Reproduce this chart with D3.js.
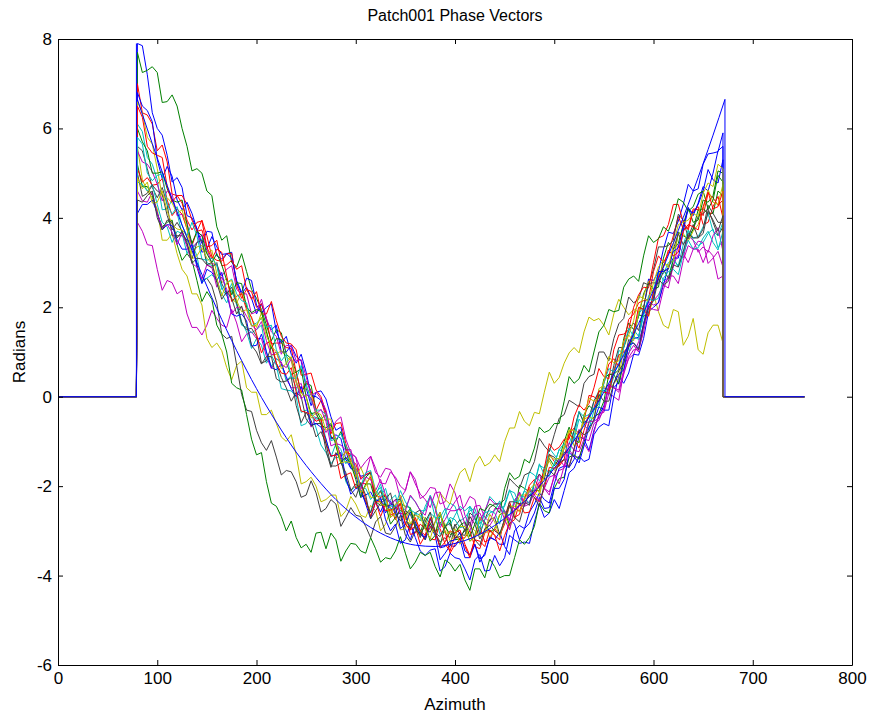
<!DOCTYPE html>
<html>
<head>
<meta charset="utf-8">
<script src="https://cdn.jsdelivr.net/npm/d3@7"></script>
<style>
	body { margin: 0; background: #fff; }
	text { font-family: "Liberation Sans", Arial, sans-serif; fill: #000; }
</style>
</head>
<body>
<svg id="chart" width="874" height="717"></svg>
<script>
//Labels
var title = "Patch001 Phase Vectors";
var xLabel = "Azimuth";
var yLabel = "Radians";
var xTicks = [0, 100, 200, 300, 400, 500, 600, 700, 800];
var yTicks = [-6, -4, -2, 0, 2, 4, 6, 8];

//Zero padding outside the patch
var padStart = 0;
var jumpAt = 79;
var padEnd = 752;

//Sample azimuths of the measured vectors
var azimuth = [80,85,90,95,100,105,110,115,120,125,130,135,140,145,150,155,160,165,170,175,
	180,185,190,195,200,205,210,215,220,225,230,235,240,245,250,255,260,265,270,275,
	280,285,290,295,300,305,310,315,320,325,330,335,340,345,350,355,360,365,370,375,
	380,385,390,395,400,405,410,415,420,425,430,435,440,445,450,455,460,465,470,475,
	480,485,490,495,500,505,510,515,520,525,530,535,540,545,550,555,560,565,570,575,
	580,585,590,595,600,605,610,615,620,625,630,635,640,645,650,655,660,665,670];

//Smooth reference curve
var modelAzimuth = [80, 100, 120, 140, 160, 180, 200, 220, 240, 260, 280, 300, 320, 340, 360, 380,
	400, 420, 440, 460, 480, 500, 520, 540, 560, 580, 600, 620, 640, 660, 672];
var modelPhase = [6.65, 5.34, 4.13, 3.00, 1.97, 1.03, 0.18, -0.57, -1.24, -1.81, -2.30, -2.69, -2.99, -3.20, -3.32, -3.35,
	-3.28, -3.13, -2.88, -2.54, -2.12, -1.60, -0.98, -0.28, 0.51, 1.40, 2.38, 3.44, 4.60, 5.85, 6.65];

//Phase vectors
var trace01 = [7.9,7.85,7.2,6.35,6.0,5.85,5.4,4.8,4.9,4.68,4.05,4.0,3.75,3.23,3.3,3.58,3.35,3.18,3.2,3.23,
	2.55,2.3,2.45,2.2,1.85,2.08,1.7,1.5,1.6,1.0,1.0,1.15,0.9,0.8,0.2,-0.2,0.1,0.13,-0.05,-0.45,
	-0.75,-0.68,-1.2,-1.6,-1.6,-1.78,-1.75,-1.7,-2.35,-2.58,-2.3,-2.33,-2.65,-2.6,-2.95,-3.2,-2.85,-2.98,-3.2,-2.9,
	-3.1,-3.65,-3.5,-3.33,-3.35,-3.18,-3.6,-3.6,-3.3,-3.63,-3.55,-3.13,-3.2,-3.3,-3.3,-2.73,-2.85,-3.2,-2.95,-2.58,
	-2.4,-2.15,-2.3,-2.38,-1.95,-1.6,-1.55,-1.58,-1.4,-0.88,-0.95,-1.2,-0.75,-0.43,-0.2,0.25,0.2,0.33,0.85,1.18,
	1.3,1.33,1.95,2.63,2.6,2.8,3.3,3.68,3.65,3.93,4.3,4.75,4.6,4.65,5.2,5.43,5.45,5.48,5.9];
var trace02 = [7.7,7.25,7.3,7.38,7.25,6.58,6.6,6.75,6.5,6.0,5.6,5.05,5.1,5.0,4.6,4.5,3.8,3.5,3.6,3.0,
	2.9,3.2,2.8,2.4,2.2,1.95,1.6,1.25,1.5,1.43,0.95,0.85,0.55,0.08,0.3,0.25,-0.3,-0.5,-0.4,-0.9,
	-1.0,-0.78,-1.15,-1.48,-1.7,-2.0,-1.8,-1.7,-2.3,-2.35,-2.2,-2.7,-2.6,-2.38,-2.45,-2.48,-2.9,-3.05,-2.7,-2.83,
	-3.05,-3.33,-2.9,-2.75,-3.2,-3.18,-2.95,-3.23,-3.1,-2.7,-2.8,-3.03,-2.95,-2.65,-2.55,-2.88,-2.6,-1.98,-2.05,-2.13,
	-2.1,-2.1,-1.6,-1.38,-1.55,-1.38,-1.0,-0.68,-0.95,-1.03,-0.4,-0.2,-0.3,-0.15,0.4,0.5,0.5,0.6,1.3,1.65,
	1.5,1.8,2.3,2.55,2.4,2.45,3.1,3.45,3.3,3.43,3.85,4.23,3.9,3.95,4.4,4.35,4.5,5.05,5.0];
var trace03 = [7.0,6.35,6.3,6.1,5.5,5.63,5.25,4.53,4.5,4.5,4.3,3.95,3.7,3.95,3.6,3.13,3.05,3.03,3.2,3.2,
	2.5,2.2,2.4,2.35,2.0,2.08,1.75,1.18,1.2,1.2,1.1,1.08,0.55,0.1,0.35,0.13,-0.3,-0.08,-0.45,-0.88,
	-1.0,-1.33,-1.25,-1.28,-1.8,-1.93,-1.95,-1.8,-2.35,-2.68,-2.4,-2.48,-2.75,-2.48,-2.6,-3.08,-3.05,-2.85,-2.95,-3.18,
	-3.2,-2.8,-3.0,-3.5,-3.3,-3.18,-3.15,-3.0,-3.35,-3.4,-3.05,-2.98,-3.1,-3.2,-2.7,-2.35,-2.7,-2.63,-2.25,-2.03,
	-2.2,-2.0,-1.7,-1.28,-1.45,-1.55,-1.15,-0.83,-0.7,-0.83,-0.55,0.03,0.0,-0.1,0.3,0.73,0.85,0.68,1.2,1.73,
	1.85,2.1,2.15,2.18,2.8,3.15,3.0,3.2,3.6,4.03,3.75,3.78,4.2,4.18,4.05,4.55,4.45,4.28,4.4];
var trace04 = [6.1,5.93,5.35,5.2,4.85,4.18,4.2,4.4,4.1,3.65,3.5,3.28,3.45,3.53,3.0,2.93,2.95,2.43,2.25,2.53,
	2.1,1.68,1.45,1.08,1.3,1.15,0.75,0.93,0.7,0.18,0.15,0.13,0.0,-0.65,-0.6,-0.35,-0.7,-1.08,-1.25,-1.5,
	-1.35,-1.38,-1.9,-2.1,-2.0,-2.08,-2.35,-2.58,-2.2,-1.95,-2.4,-2.3,-2.2,-2.6,-2.5,-2.23,-2.35,-2.55,-2.55,-2.2,
	-2.45,-2.88,-2.6,-2.38,-2.45,-2.78,-2.7,-2.55,-2.5,-2.85,-2.6,-2.23,-2.35,-2.5,-2.45,-2.1,-2.15,-2.43,-2.1,-1.68,
	-1.75,-1.88,-1.7,-1.15,-1.3,-1.43,-1.15,-1.05,-0.75,-0.35,-0.55,-0.58,-0.1,0.13,0.15,0.03,0.6,0.95,0.9,1.15,
	1.5,1.35,1.8,2.25,2.4,2.8,2.6,2.65,3.1,2.9,3.2,3.7,3.5,3.38,3.45,3.65,3.75,3.33,3.5];
var trace05 = [3.9,3.7,3.4,3.38,2.85,2.38,2.6,2.55,2.3,2.38,1.85,1.55,1.55,1.38,1.6,1.93,1.75,1.6,1.55,1.95,
	1.65,1.23,1.4,1.45,1.3,1.3,0.9,0.63,0.85,0.78,0.4,0.2,0.2,0.3,-0.2,-0.68,-0.45,-0.58,-0.8,-0.63,
	-0.95,-1.38,-1.4,-1.28,-1.35,-1.85,-1.75,-1.33,-1.6,-1.93,-1.95,-1.68,-1.8,-2.0,-2.1,-1.68,-1.85,-2.28,-2.2,-2.03,
	-2.05,-2.4,-2.35,-1.95,-2.15,-2.55,-2.45,-2.23,-2.3,-2.78,-2.55,-2.28,-2.4,-2.38,-2.55,-2.75,-2.35,-2.13,-2.4,-2.35,
	-2.1,-1.73,-2.05,-2.13,-1.8,-1.65,-1.6,-1.18,-1.35,-1.35,-1.05,-1.23,-0.8,-0.38,-0.35,0.08,0.0,-0.08,0.55,0.85,
	0.95,1.23,1.6,2.13,2.05,2.1,2.55,2.63,2.9,3.4,3.2,3.0,3.3,3.3,3.0,3.28,3.15,2.63,2.7];
var trace06 = [5.6,4.85,4.6,4.45,4.2,3.5,3.5,3.65,3.2,2.85,2.7,2.3,2.3,2.05,1.3,1.1,1.2,1.03,0.65,0.38,
	0.7,0.8,0.2,0.1,0.1,-0.4,-0.4,-0.3,-0.6,-0.9,-1.0,-0.85,-1.3,-1.95,-1.9,-1.8,-2.0,-2.35,-2.3,-2.2,
	-2.2,-2.68,-2.55,-2.23,-2.4,-2.65,-2.7,-2.43,-2.55,-3.0,-2.85,-2.53,-2.7,-2.98,-2.95,-2.5,-2.75,-3.03,-2.9,-2.85,
	-2.6,-2.15,-2.3,-2.4,-2.0,-1.7,-1.6,-1.9,-1.5,-1.33,-1.55,-1.48,-1.3,-1.45,-1.0,-0.7,-0.7,-0.33,-0.55,-0.65,
	-0.35,-0.38,0.1,0.55,0.3,0.43,0.75,0.98,1.1,0.98,1.45,1.78,1.7,1.75,1.6,1.38,1.85,2.18,2.0,1.83,
	1.95,1.9,2.25,2.58,2.3,1.9,1.6,1.53,1.95,1.9,1.15,1.35,1.75,1.05,0.95,1.43,1.6,1.6,1.2];
var trace07 = [5.6,5.5,5.1,4.68,4.45,4.68,4.3,3.6,3.6,3.6,3.5,3.48,2.95,2.6,2.65,2.48,2.1,1.4,1.3,1.35,
	0.7,0.05,-0.3,-0.33,-0.75,-1.03,-1.2,-0.98,-1.35,-1.75,-1.65,-1.68,-1.9,-2.25,-2.2,-1.88,-2.15,-2.58,-2.5,-2.3,
	-2.4,-2.9,-2.7,-2.48,-2.65,-2.68,-2.9,-3.15,-2.8,-2.68,-3.05,-3.08,-2.9,-2.65,-3.1,-3.25,-3.0,-3.05,-3.2,-2.83,
	-3.05,-3.25,-3.15,-3.33,-2.9,-2.75,-3.0,-2.6,-2.7,-3.08,-2.75,-2.48,-2.4,-2.4,-2.3,-1.83,-1.95,-2.05,-1.75,-1.7,
	-1.45,-0.93,-1.1,-1.23,-0.85,-0.48,-0.4,-0.08,-0.15,-0.23,0.3,0.45,0.5,1.0,1.0,0.8,1.3,1.63,1.75,2.23,
	2.1,2.18,2.55,2.5,2.85,3.35,3.35,3.38,3.5,4.08,3.95,3.55,3.75,4.03,4.1,4.2,3.9,3.6,3.8];
var trace08 = [6.8,6.5,6.4,6.15,5.3,4.88,5.15,4.93,4.4,4.18,4.35,4.1,3.75,3.43,3.7,3.68,3.15,3.08,3.2,3.1,
	2.6,2.33,2.65,2.6,2.05,1.88,2.0,2.08,1.45,1.2,1.35,0.95,0.75,0.95,0.55,0.03,0.0,-0.08,-0.35,-0.95,
	-0.85,-0.93,-1.4,-1.6,-1.7,-2.25,-2.2,-2.13,-2.35,-2.25,-2.75,-3.0,-2.85,-3.28,-3.2,-2.83,-3.15,-3.45,-3.55,-3.43,
	-3.4,-3.9,-3.8,-3.5,-3.6,-3.63,-3.85,-4.1,-3.65,-3.53,-3.9,-3.88,-3.55,-3.78,-3.6,-3.1,-3.2,-3.28,-3.25,-3.28,
	-2.8,-2.4,-2.7,-2.6,-2.3,-2.5,-2.1,-1.7,-1.6,-1.33,-1.45,-1.4,-0.85,-0.68,-0.6,-0.65,0.0,0.45,0.3,0.53,
	0.95,0.93,1.3,1.9,2.0,2.1,2.5,2.9,3.1,3.1,3.7,4.23,4.05,4.33,4.7,4.6,5.0,5.5,5.6];
var trace09 = [5.2,4.7,4.7,4.5,4.1,3.8,3.9,3.95,3.4,3.05,3.2,3.05,2.6,2.13,2.35,2.18,1.6,1.4,1.0,0.3,
	0.2,0.15,-0.4,-0.95,-1.3,-1.25,-1.9,-2.38,-2.45,-2.68,-3.0,-2.78,-3.15,-3.38,-3.3,-3.48,-3.05,-3.03,-3.4,-3.05,
	-3.2,-3.68,-3.45,-3.28,-3.3,-3.45,-3.5,-3.15,-3.4,-3.7,-3.6,-3.63,-3.45,-3.13,-3.5,-3.85,-3.7,-3.48,-3.55,-3.48,
	-3.8,-4.03,-3.65,-3.73,-3.9,-3.75,-4.1,-4.33,-3.85,-3.85,-4.05,-3.63,-3.8,-4.05,-4.0,-4.0,-3.6,-3.2,-3.3,-3.15,
	-2.9,-2.38,-2.55,-2.6,-2.05,-1.83,-1.8,-1.35,-1.3,-1.4,-1.0,-0.58,-0.45,-0.38,-0.1,0.5,0.5,0.28,0.75,1.1,
	1.35,1.83,1.8,1.85,2.3,2.68,2.85,2.65,3.05,3.68,3.6,3.53,3.75,4.18,4.2,4.1,4.1,4.6,4.5];
var trace10 = [5.1,4.8,4.9,4.73,4.75,4.88,4.4,4.05,4.2,4.08,3.75,3.38,3.7,3.73,3.35,3.38,3.5,2.93,2.95,3.05,
	2.85,2.93,2.4,2.18,2.35,1.85,1.85,2.13,1.7,1.35,1.2,1.18,1.05,0.48,0.5,0.53,0.15,0.0,-0.35,-0.83,
	-0.6,-0.58,-1.05,-1.43,-1.5,-1.83,-1.75,-1.68,-2.2,-2.25,-2.2,-2.65,-2.6,-2.38,-2.85,-2.98,-2.9,-3.3,-3.1,-2.9,
	-3.0,-2.95,-3.3,-3.45,-3.1,-3.18,-3.35,-3.6,-3.15,-2.9,-3.25,-3.2,-2.95,-3.1,-2.85,-2.43,-2.5,-2.55,-2.3,-1.98,
	-1.85,-2.03,-1.6,-1.05,-1.2,-1.13,-0.95,-0.95,-0.45,-0.18,-0.3,-0.15,0.2,0.63,0.45,0.4,1.05,1.38,1.4,1.5,
	2.0,2.28,2.45,2.43,3.0,3.55,3.6,3.85,4.3,4.3,3.9,3.73,4.15,4.25,3.85,3.9,4.25,4.48,4.0];
var trace11 = [4.8,4.75,4.6,4.75,4.3,3.9,3.8,3.45,3.7,3.65,3.2,3.43,3.15,2.55,2.65,2.73,2.6,2.3,2.1,2.38,
	2.05,1.6,1.55,1.43,1.5,1.6,1.0,0.68,0.85,0.75,0.35,0.48,0.2,-0.35,-0.3,-0.35,-0.5,-0.48,-0.95,-1.35,
	-1.05,-1.18,-1.5,-1.3,-1.7,-2.03,-2.05,-2.3,-2.15,-2.03,-2.4,-2.5,-2.5,-2.25,-2.7,-2.95,-2.6,-2.65,-2.9,-2.6,
	-2.7,-3.08,-2.95,-2.7,-2.75,-2.93,-2.9,-2.45,-2.6,-3.03,-2.75,-2.6,-2.55,-2.33,-2.6,-2.65,-2.3,-2.18,-2.25,-2.4,
	-1.95,-1.5,-1.75,-1.78,-1.5,-1.18,-1.25,-1.15,-0.95,-0.5,-0.65,-0.73,-0.3,0.03,0.15,0.1,0.45,1.03,1.0,0.95,
	1.4,1.85,2.0,1.83,2.35,2.75,2.75,3.0,3.05,2.93,3.4,3.73,3.55,3.58,3.8,4.1,3.7,3.6,3.9];
var trace12 = [5.5,5.25,5.2,5.03,4.75,4.38,4.6,4.53,4.05,4.08,3.9,3.33,3.45,3.63,3.3,2.98,2.95,2.7,2.85,2.93,
	2.4,2.3,2.3,1.85,1.9,2.18,1.75,1.45,1.35,0.95,1.15,1.13,0.8,0.83,0.45,0.03,0.1,-0.05,-0.3,-0.78,
	-0.55,-0.45,-0.95,-1.25,-1.35,-1.6,-1.45,-1.33,-1.7,-1.8,-1.6,-1.63,-1.85,-2.28,-2.1,-1.68,-1.95,-2.18,-2.3,-2.48,
	-2.15,-2.13,-2.5,-2.53,-2.35,-2.2,-2.65,-2.9,-2.45,-2.43,-2.7,-2.8,-2.5,-2.5,-2.6,-2.78,-2.35,-2.15,-2.45,-2.4,
	-2.15,-1.9,-2.05,-2.2,-1.75,-1.4,-1.55,-1.53,-1.2,-0.73,-0.95,-0.98,-0.6,-0.53,-0.25,0.28,0.2,0.15,0.6,0.98,
	1.15,1.0,1.55,2.05,2.15,2.28,2.5,2.43,2.95,3.18,3.1,3.6,3.5,3.23,3.35,3.23,3.6,3.78,3.25];
var trace13 = [6.6,6.35,5.8,5.65,5.1,4.48,4.45,4.33,4.1,4.18,3.75,3.2,3.35,3.38,3.2,3.28,2.75,2.55,2.65,2.18,
	2.1,2.33,2.05,1.75,1.55,1.88,1.5,0.93,0.95,1.03,0.9,0.8,0.3,0.0,0.2,0.05,-0.4,-0.55,-0.5,-0.5,
	-1.1,-1.5,-1.2,-1.45,-1.8,-1.58,-1.85,-2.25,-2.25,-2.13,-2.2,-2.7,-2.6,-2.2,-2.5,-2.83,-2.85,-2.6,-2.75,-2.95,
	-3.05,-2.65,-2.85,-3.23,-3.1,-2.9,-2.9,-3.23,-3.15,-2.7,-2.85,-3.15,-2.95,-2.63,-2.6,-2.95,-2.6,-2.2,-2.2,-2.08,
	-2.15,-2.23,-1.7,-1.43,-1.65,-1.48,-1.1,-0.75,-1.1,-1.0,-0.5,-0.45,-0.5,0.18,0.25,0.13,0.3,0.4,1.1,1.38,
	1.25,1.9,2.05,1.8,2.25,2.7,2.95,2.95,3.05,3.65,3.65,3.48,3.7,3.85,4.2,4.63,4.35,4.3,4.75];
var trace14 = [5.0,4.48,4.55,4.73,4.6,4.53,4.05,3.73,3.9,3.7,3.4,3.08,3.45,3.5,2.95,2.88,3.0,2.53,2.3,2.45,
	2.1,1.65,1.5,1.53,1.35,0.75,0.8,1.13,0.75,0.43,0.2,-0.1,0.1,0.0,-0.5,-0.65,-0.6,-0.6,-1.2,-1.58,
	-1.25,-1.4,-1.85,-2.1,-1.95,-2.1,-2.35,-2.6,-2.25,-2.1,-2.45,-2.43,-2.3,-2.3,-2.7,-2.95,-2.6,-2.53,-2.95,-3.03,
	-2.8,-2.58,-3.05,-3.15,-2.85,-3.08,-3.1,-2.68,-2.85,-3.18,-3.0,-2.75,-2.7,-3.08,-2.75,-2.35,-2.35,-2.4,-2.35,-2.43,
	-1.9,-1.73,-1.85,-1.3,-1.35,-1.5,-1.25,-1.25,-0.75,-0.33,-0.6,-0.45,-0.1,0.1,0.2,0.15,0.7,1.1,1.1,1.48,
	1.65,1.48,2.0,2.53,2.55,2.53,2.8,2.85,3.3,3.65,3.4,3.58,3.85,3.55,3.75,4.28,4.1,3.9,3.9];
var trace15 = [4.1,4.3,4.3,4.4,4.1,3.73,3.85,3.83,3.5,3.3,3.3,3.4,2.9,2.53,2.85,2.78,2.6,2.78,2.3,1.85,
	1.8,1.85,1.7,1.13,1.15,1.4,1.0,0.65,0.6,0.73,0.45,0.18,0.0,0.23,-0.15,-0.63,-0.6,-0.68,-0.95,-1.33,
	-1.3,-1.25,-1.8,-2.18,-2.05,-2.08,-2.4,-2.73,-2.35,-2.28,-2.6,-2.38,-2.45,-2.95,-2.85,-2.58,-2.8,-3.08,-3.15,-2.73,
	-3.0,-3.38,-3.35,-3.23,-3.2,-3.03,-3.45,-3.53,-3.3,-3.7,-3.5,-3.15,-3.2,-3.03,-3.35,-3.53,-3.0,-2.88,-2.95,-2.83,
	-2.6,-2.25,-2.5,-2.48,-2.05,-2.05,-1.85,-1.25,-1.35,-1.48,-1.1,-0.68,-0.55,-0.23,-0.3,-0.3,0.3,0.5,0.6,1.15,
	1.2,1.08,1.65,2.03,2.2,2.8,2.8,2.88,3.25,3.33,3.8,4.2,4.1,4.3,4.6,5.08,4.85,4.78,5.3];
var trace16 = [6.0,5.7,5.5,5.0,5.0,5.03,4.65,4.4,4.35,4.4,3.85,3.43,3.7,3.6,3.2,3.0,3.2,2.95,2.6,2.28,
	2.55,2.53,2.0,1.88,1.95,1.9,1.45,1.08,1.3,1.28,0.75,0.5,0.55,0.63,0.0,-0.38,-0.35,-0.63,-0.7,-0.6,
	-1.1,-1.48,-1.35,-1.5,-1.85,-2.25,-1.95,-1.95,-2.35,-2.43,-2.4,-2.85,-2.7,-2.53,-2.65,-2.5,-2.95,-3.1,-2.85,-3.23,
	-3.1,-2.65,-2.9,-3.08,-3.05,-2.88,-2.8,-3.13,-2.85,-2.5,-2.55,-2.4,-2.45,-2.6,-2.05,-1.7,-1.85,-1.78,-1.4,-1.48,
	-1.15,-0.68,-0.8,-0.75,-0.6,-0.6,-0.1,0.45,0.3,0.4,0.7,0.55,1.0,1.45,1.6,1.95,1.9,1.93,2.45,2.63,
	2.7,2.58,3.15,3.6,3.45,3.53,3.8,3.7,4.0,4.43,4.35,4.15,4.25,4.53,4.6,4.2,4.4,4.95,4.8];
var trace17 = [6.5,6.25,5.6,5.45,5.4,5.35,4.7,4.35,4.5,4.33,3.95,3.73,3.9,3.93,3.35,3.08,3.3,3.23,2.7,2.13,
	2.25,2.3,1.95,1.78,1.4,0.98,1.2,1.23,0.75,0.53,0.5,0.65,0.1,-0.32,-0.35,-0.4,-0.55,-0.5,-1.05,-1.33,
	-1.3,-1.83,-1.75,-1.7,-2.05,-1.93,-2.3,-2.68,-2.35,-2.35,-2.55,-2.53,-2.5,-2.38,-2.85,-2.98,-2.7,-3.0,-3.1,-2.7,
	-3.0,-3.38,-3.25,-3.0,-3.05,-2.98,-3.3,-3.55,-3.2,-3.23,-3.35,-2.98,-3.1,-3.45,-3.1,-2.83,-2.75,-2.38,-2.6,-2.58,
	-2.25,-2.35,-2.05,-1.58,-1.6,-1.55,-1.4,-0.83,-0.95,-1.15,-0.75,-0.4,-0.25,0.13,0.1,0.08,0.55,0.93,1.0,1.13,
	1.45,2.0,1.95,1.8,2.35,2.68,2.9,3.28,3.15,3.23,3.7,3.85,3.8,3.73,4.25,4.58,4.2,4.25,4.6];
var trace18 = [5.8,5.65,5.0,4.83,4.95,4.98,4.3,4.08,4.25,3.83,3.6,3.9,3.6,3.08,3.05,3.1,2.95,2.4,2.55,2.63,
	2.3,2.15,2.1,1.58,1.65,1.75,1.55,1.6,1.05,0.8,0.95,0.43,0.4,0.7,0.3,-0.1,-0.3,-0.3,-0.4,-0.98,
	-0.95,-0.83,-1.1,-1.25,-1.6,-2.0,-1.7,-1.65,-2.1,-2.23,-2.05,-2.45,-2.45,-2.1,-2.35,-2.53,-2.6,-2.78,-2.45,-2.23,
	-2.7,-2.7,-2.5,-2.88,-2.65,-2.45,-2.55,-2.45,-2.75,-2.93,-2.6,-2.55,-2.6,-2.85,-2.4,-2.08,-2.35,-2.33,-2.1,-2.23,
	-1.95,-1.53,-1.6,-1.7,-1.5,-1.18,-1.05,-1.28,-0.9,-0.33,-0.45,-0.4,-0.25,-0.23,0.3,0.63,0.55,0.73,1.1,1.53,
	1.35,1.28,1.9,2.18,2.15,2.2,2.65,2.8,2.85,2.73,3.2,3.5,3.3,3.33,3.55,3.7,3.45,3.28,3.7];
var trace19 = [4.6,4.38,4.35,4.58,4.1,3.78,3.85,3.68,3.4,3.68,3.35,2.98,2.9,2.63,2.95,2.9,2.45,2.68,2.4,1.85,
	2.0,2.0,1.8,1.6,1.5,1.68,1.25,0.93,1.0,0.73,0.65,0.85,0.35,-0.05,0.05,-0.03,-0.4,-0.28,-0.55,-1.1,
	-1.05,-1.08,-1.2,-1.18,-1.65,-2.08,-1.8,-1.85,-2.1,-1.85,-2.2,-2.4,-2.3,-2.63,-2.55,-2.2,-2.35,-2.55,-2.65,-2.23,
	-2.5,-2.93,-2.75,-2.55,-2.55,-2.5,-2.85,-3.0,-2.65,-2.6,-2.85,-2.88,-2.7,-2.43,-2.75,-2.98,-2.5,-2.43,-2.45,-2.08,
	-2.2,-2.33,-2.05,-1.8,-1.75,-1.95,-1.55,-1.03,-1.2,-1.23,-0.95,-0.55,-0.55,-0.48,-0.3,0.25,0.2,0.1,0.5,0.88,
	1.05,1.05,1.45,2.0,1.95,1.93,2.4,2.7,2.7,2.53,3.05,3.38,3.3,3.48,3.45,2.98,3.1,3.25,2.9];
var trace20 = [4.9,4.65,4.8,4.33,4.35,4.6,4.15,3.85,3.75,3.73,3.6,3.08,3.15,3.33,3.1,2.98,2.65,2.25,2.55,2.6,
	2.15,1.9,1.95,1.58,1.6,1.78,1.35,1.13,1.0,0.63,0.75,0.9,0.35,0.08,0.0,-0.48,-0.35,-0.4,-0.75,-0.68,
	-1.0,-1.48,-1.45,-1.48,-1.6,-2.15,-2.0,-1.75,-2.1,-2.38,-2.45,-2.63,-2.4,-2.33,-2.75,-2.85,-2.65,-2.7,-2.95,-3.18,
	-2.8,-2.58,-3.05,-3.05,-2.95,-3.3,-3.15,-2.88,-3.0,-3.13,-3.05,-2.63,-2.8,-3.13,-2.75,-2.45,-2.45,-2.58,-2.3,-2.08,
	-1.95,-2.15,-1.75,-1.33,-1.4,-1.38,-1.15,-0.75,-0.75,-0.9,-0.45,-0.03,-0.1,-0.03,0.35,0.9,0.75,0.8,1.25,1.38,
	1.7,2.25,2.2,2.13,2.55,2.9,3.05,2.88,3.4,3.85,3.9,3.95,4.1,4.03,4.55,4.78,4.7,5.2,5.1];
var trace21 = [4.4,4.35,4.5,4.6,4.0,3.73,3.95,3.9,3.55,3.7,3.45,2.98,3.1,3.08,2.95,3.0,2.55,2.18,2.35,2.2,
	1.85,2.03,1.6,1.15,1.0,0.73,0.9,0.9,0.4,0.33,0.35,0.43,-0.2,-0.58,-0.35,-0.53,-0.9,-0.78,-1.05,-1.55,
	-1.55,-1.48,-1.7,-2.08,-2.25,-1.93,-2.2,-2.73,-2.55,-2.38,-2.3,-2.15,-2.6,-2.78,-2.55,-2.63,-2.9,-3.15,-2.8,-2.58,
	-3.05,-3.13,-2.9,-2.83,-3.15,-3.13,-3.0,-2.8,-3.2,-3.33,-2.95,-2.88,-3.0,-3.08,-2.75,-2.43,-2.7,-2.8,-2.4,-2.18,
	-2.25,-2.45,-1.95,-1.65,-1.75,-1.48,-1.4,-1.58,-1.15,-0.75,-0.85,-0.78,-0.5,0.05,-0.1,-0.1,0.3,0.58,0.75,1.28,
	1.2,1.05,1.6,1.98,2.15,2.63,2.5,2.58,2.95,2.9,3.25,3.65,3.55,3.55,3.65,4.15,3.95,3.7,4.05];

var traces = [trace01, trace02, trace03, trace04, trace05, trace06, trace07,
	trace08, trace09, trace10, trace11, trace12, trace13, trace14,
	trace15, trace16, trace17, trace18, trace19, trace20, trace21];

//MATLAB line colour order
var colorOrder = ["#0000ff", "#008000", "#ff0000", "#00bfbf", "#bf00bf", "#bfbf00", "#404040"];

var plotLeft = 58, plotRight = 852, plotTop = 39, plotBottom = 665;

var svg = d3.select("#chart");

var x = d3.scaleLinear()
	.domain([0, 800])
	.range([plotLeft, plotRight]);

var y = d3.scaleLinear()
	.domain([-6, 8])
	.range([plotBottom, plotTop]);

var line = d3.line()
	.x(function(d) { return x(d[0]); })
	.y(function(d) { return y(d[1]); });

// pad a vector with the zero stretch on both sides of the patch
function padded(az, vals) {
	var pts = [[padStart, 0], [jumpAt, 0]];
	for (var i = 0; i < az.length; i++) {
		pts.push([az[i], vals[i]]);
	}
	var last = az[az.length - 1];
	pts.push([last, 0]);
	pts.push([padEnd, 0]);
	return pts;
}

var plot = svg.append("g");

plot.selectAll("path.trace")
	.data(traces)
	.enter().append("path")
	.attr("class", "trace")
	.attr("fill", "none")
	.attr("stroke-width", 1)
	.attr("stroke-linejoin", "round")
	.attr("stroke", function(d, i) { return colorOrder[i % colorOrder.length]; })
	.attr("d", function(d) { return line(padded(azimuth, d)); });

// reference curve, drawn last so the zero stretch shows blue
var modelPts = [];
for (var i = 0; i < modelAzimuth.length; i++) {
	modelPts.push([modelAzimuth[i], modelPhase[i]]);
}
var smoothLine = d3.line()
	.x(function(d) { return x(d[0]); })
	.y(function(d) { return y(d[1]); })
	.curve(d3.curveMonotoneX);

plot.append("path")
	.attr("fill", "none")
	.attr("stroke", "#0000ff")
	.attr("stroke-width", 1)
	.attr("d", smoothLine(modelPts));
plot.append("path")
	.attr("fill", "none")
	.attr("stroke", "#0000ff")
	.attr("stroke-width", 1)
	.attr("d", line([[padStart, 0], [jumpAt, 0], [jumpAt, trace01[0]]]));
var lastAz = modelAzimuth[modelAzimuth.length - 1];
plot.append("path")
	.attr("fill", "none")
	.attr("stroke", "#0000ff")
	.attr("stroke-width", 1)
	.attr("d", line([[lastAz, modelPhase[modelPhase.length - 1]], [lastAz, 0], [padEnd, 0]]));

//Axes (ticks pointing inward, box on)
var fontSize = "17px";
var plainNumber = function(d) { return String(d); };

svg.append("g")
	.attr("transform", "translate(0," + plotBottom + ")")
	.call(d3.axisBottom(x).tickValues(xTicks).tickFormat(plainNumber).tickSizeInner(-5).tickSizeOuter(0).tickPadding(7));

svg.append("g")
	.attr("transform", "translate(0," + plotTop + ")")
	.call(d3.axisTop(x).tickValues(xTicks).tickSizeInner(-5).tickSizeOuter(0).tickFormat(""));

svg.append("g")
	.attr("transform", "translate(" + plotLeft + ",0)")
	.call(d3.axisLeft(y).tickValues(yTicks).tickFormat(plainNumber).tickSizeInner(-5).tickSizeOuter(0).tickPadding(6));

svg.append("g")
	.attr("transform", "translate(" + plotRight + ",0)")
	.call(d3.axisRight(y).tickValues(yTicks).tickSizeInner(-5).tickSizeOuter(0).tickFormat(""));

svg.selectAll("g").attr("font-family", null).attr("font-size", null);
svg.selectAll(".tick text").style("font-size", fontSize);
svg.selectAll(".domain").attr("stroke", "#000");
svg.selectAll(".tick line").attr("stroke", "#000");

//Titles
svg.append("text")
	.attr("x", (plotLeft + plotRight) / 2)
	.attr("y", 21)
	.attr("text-anchor", "middle")
	.style("font-size", "16px")
	.text(title);

svg.append("text")
	.attr("x", (plotLeft + plotRight) / 2)
	.attr("y", 710)
	.attr("text-anchor", "middle")
	.style("font-size", "17px")
	.text(xLabel);

svg.append("text")
	.attr("transform", "translate(25," + ((plotTop + plotBottom) / 2) + ") rotate(-90)")
	.attr("text-anchor", "middle")
	.style("font-size", "17px")
	.text(yLabel);
</script>
</body>
</html>
